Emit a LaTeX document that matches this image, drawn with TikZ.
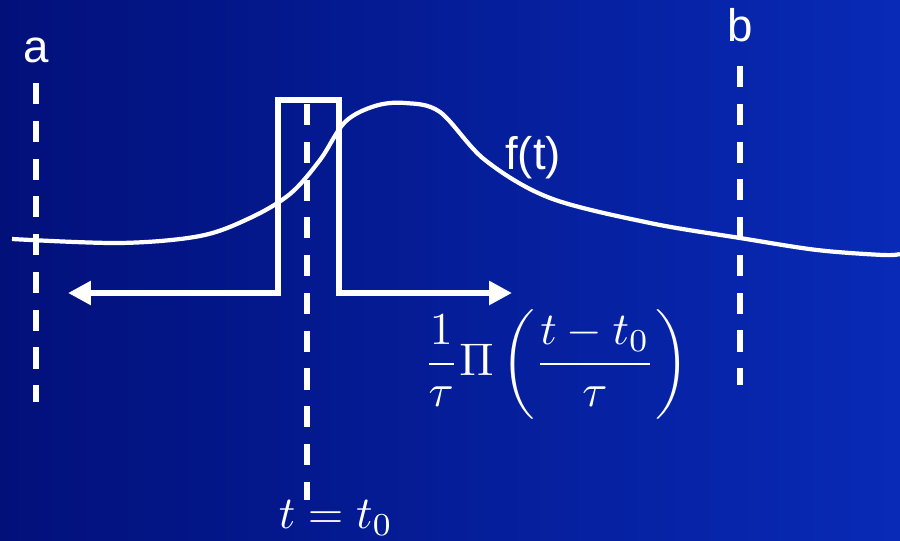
\documentclass[tikz,border=0pt]{standalone}
\usepackage{fontspec}
\newfontfamily\lblfont{Liberation Sans}
\usetikzlibrary{arrows.meta}
\definecolor{bgdark}{RGB}{2,16,122}
\definecolor{bglight}{RGB}{8,42,182}
\newcommand{\bigmath}[1]{\scalebox{2.6}{$\displaystyle #1$}}

\begin{document}
\begin{tikzpicture}[x=0.02cm, y=-0.02cm,
    lbl/.style={text=white, inner sep=0pt, font=\lblfont\fontsize{26}{30}\selectfont},
    mathlbl/.style={text=white, inner sep=0pt},
    guide/.style={white, line width=3.2pt, dash pattern=on 12pt off 9.5pt},
    pulse/.style={white, line width=3.4pt, {Triangle[length=13pt, width=13pt]}-{Triangle[length=13pt, width=13pt]}}]
  % background
  \shade[left color=bgdark, right color=bglight] (0,0) rectangle (900,541);
  \useasboundingbox (0,0) rectangle (900,541);

  % limits a and b
  \node[lbl] (lbla) at (36,50) {a};
  \node[lbl] (lblb) at (740,25) {b};
  \coordinate (atop) at (36,83);
  \coordinate (abot) at (36,402);
  \coordinate (btop) at (740,66);
  \coordinate (bbot) at (740,385);
  \draw[guide] (atop) -- (abot);
  \draw[guide] (btop) -- (bbot);

  % the function
  \draw[white, line width=2.4pt] plot[smooth, tension=0.55] coordinates {
    (12,239) (120,243) (200,236) (250,218) (290,194) (320,160) (345,122)
    (375,106) (405,103) (440,112) (485,160) (550,198)
    (650,223) (740,238) (817,250) (883,255) (900,254)};
  \node[lbl] (flbl) at (533,158) {f(t)};

  % pulse at t0
  \coordinate (tl) at (68,293);
  \coordinate (tr) at (512,293);
  \draw[pulse] (tl) -- (278,293) -- (278,100) -- (339,100) -- (339,293) -- (tr);
  \coordinate (ttop) at (307,104);
  \node[mathlbl] (t0lbl) at (336,518) {\bigmath{t=t_0}};
  \draw[guide] (ttop) -- (307,500);

  \node[mathlbl] (pilbl) at (556,364)
    {\bigmath{\frac{1}{\tau}\Pi\left(\frac{t-t_0}{\tau}\right)}};
\end{tikzpicture}
\end{document}
